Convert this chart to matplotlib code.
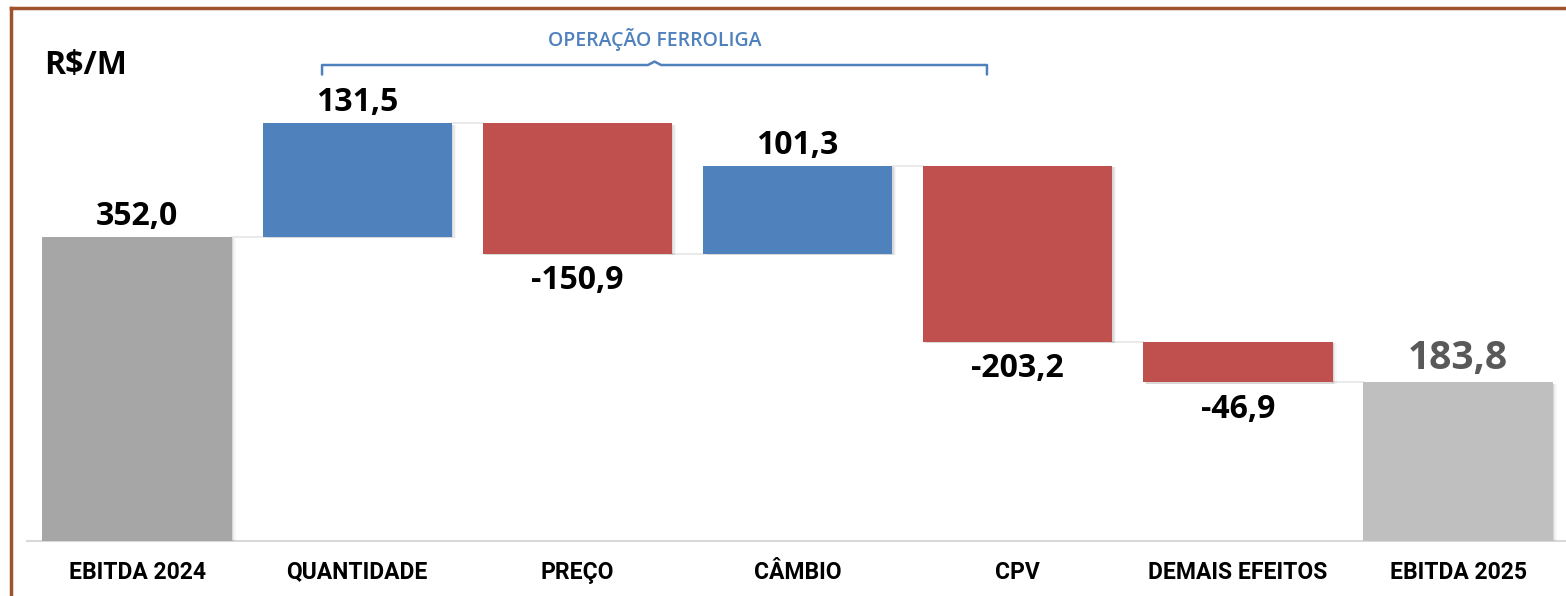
import matplotlib.pyplot as plt
from matplotlib.lines import Line2D

categories = ["EBITDA 2024", "QUANTIDADE", "PREÇO", "CÂMBIO", "CPV",
              "DEMAIS EFEITOS", "EBITDA 2025"]
start_value = 352.0
deltas = [131.5, -150.9, 101.3, -203.2, -46.9]
end_value = 183.8
value_labels = ["352,0", "131,5", "-150,9", "101,3", "-203,2", "-46,9", "183,8"]

BLUE = "#4f81bd"
RED = "#c0504d"
GRAY_START = "#a6a6a6"
GRAY_END = "#bfbfbf"
FRAME = "#a0522d"

LABEL_FONT = ["Open Sans", "DejaVu Sans"]
CAT_FONT = ["Liberation Sans Narrow", "Roboto", "DejaVu Sans"]

fig = plt.figure(figsize=(15.66, 5.96), dpi=100)
ax = fig.add_axes([16 / 1566, 55 / 596, 1 - 16 / 1566, (541 - 8) / 596])
ax.set_xlim(-0.55, 6.49)
ax.set_ylim(0, 617)
ax.axis("off")

width = 0.86

# running totals
bottoms, heights, colors = [0.0], [start_value], [GRAY_START]
level = start_value
for d in deltas:
    if d >= 0:
        bottoms.append(level)
        heights.append(d)
        colors.append(BLUE)
    else:
        bottoms.append(level + d)
        heights.append(-d)
        colors.append(RED)
    level += d
bottoms.append(0.0)
heights.append(end_value)
colors.append(GRAY_END)

x = list(range(len(categories)))

# soft shadow
for dx, a in [(0.006, 0.07), (0.012, 0.05), (0.018, 0.03)]:
    ax.bar([i + dx for i in x], heights, width=width, bottom=[b - 1.5 for b in bottoms],
           color="black", alpha=a, zorder=1, linewidth=0)
ax.bar(x, heights, width=width, bottom=bottoms, color=colors, zorder=2, linewidth=0)

# connectors
levels = [start_value]
for d in deltas:
    levels.append(levels[-1] + d)
for i, lv in enumerate(levels):
    ax.plot([i + width / 2, i + 1 - width / 2], [lv, lv], color="#e6e6e6",
            linewidth=1.2, zorder=0)

# baseline
ax.plot([-0.5, 6.49], [0, 0], color="#d9d9d9", linewidth=1.5, zorder=0, clip_on=False)

# value labels
for i, (b, h, lab) in enumerate(zip(bottoms, heights, value_labels)):
    if i == 0:
        ax.text(i, b + h + 5, lab, ha="center", va="bottom", fontsize=23,
                fontweight="bold", family=LABEL_FONT, color="black")
    elif i == len(categories) - 1:
        ax.text(i, b + h + 5, lab, ha="center", va="bottom", fontsize=28,
                fontweight="bold", family=LABEL_FONT, color="#595959")
    elif deltas[i - 1] >= 0:
        ax.text(i, b + h + 5, lab, ha="center", va="bottom", fontsize=23,
                fontweight="bold", family=LABEL_FONT, color="black")
    else:
        ax.text(i, b - 12, lab, ha="center", va="top", fontsize=23,
                fontweight="bold", family=LABEL_FONT, color="black")

# category labels
for i, c in enumerate(categories):
    ax.text(i, -36, c, ha="center", va="center", fontsize=16.5, fontweight="bold",
            family=CAT_FONT, color="black")

# unit label
ax.text(-0.42, 551, "R$/M", ha="left", va="center", fontsize=23, fontweight="bold",
        family=LABEL_FONT, color="black")

# bracket for "OPERAÇÃO FERROLIGA"
bx0, bx1 = 0.84, 3.86
bxm = (bx0 + bx1) / 2
ax.plot([bx0, bx0, bxm - 0.03, bxm, bxm + 0.03, bx1, bx1],
        [540, 551, 551, 555, 551, 551, 540], color=BLUE, linewidth=1.8,
        solid_joinstyle="round", solid_capstyle="round")
ax.text(bxm, 580, "OPERAÇÃO FERROLIGA", ha="center", va="center", fontsize=14,
        fontweight="semibold", family=LABEL_FONT, color=BLUE)

# frame (left and top edges)
fig.add_artist(Line2D([10.5 / 1566, 10.5 / 1566], [0, 1 - 8 / 596], color=FRAME,
                      linewidth=2.5, transform=fig.transFigure))
fig.add_artist(Line2D([10.5 / 1566, 1], [1 - 8 / 596, 1 - 8 / 596], color=FRAME,
                      linewidth=2.5, transform=fig.transFigure))

fig.savefig("out.png", dpi=100)
